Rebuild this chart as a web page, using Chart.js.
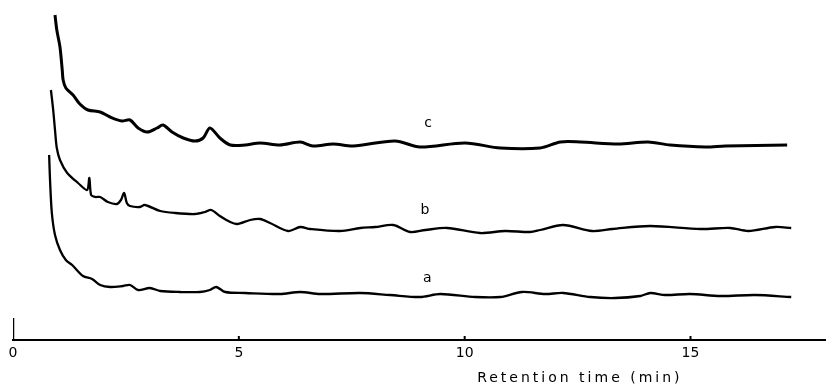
<!DOCTYPE html>
<html>
<head>
<meta charset="utf-8">
<title>Chromatograms a, b, c</title>
<script src="https://cdn.jsdelivr.net/npm/chart.js@4.4.1/dist/chart.umd.min.js"></script>
<style>
  html, body { margin: 0; padding: 0; background: #fff; }
</style>
</head>
<body>
<canvas id="chart" width="826" height="386"></canvas>
<script>
// retention time (min) and detector response (arbitrary units)
const timeA = [0.80, 0.82, 0.86, 0.93, 1.04, 1.17, 1.31, 1.55, 1.75, 1.93, 2.15, 2.44, 2.59, 2.77, 3.03, 3.26, 3.70, 4.14, 4.36, 4.50, 4.70, 5.14, 5.91, 6.36, 6.80, 7.69, 8.35, 9.01, 9.46, 10.23, 10.79, 11.27, 11.78, 12.18, 12.78, 13.33, 13.89, 14.11, 14.44, 14.99, 15.66, 16.43, 17.23];
const signalA = [18.5, 16.0, 12.7, 10.5, 9.0, 8.0, 7.5, 6.4, 6.1, 5.5, 5.3, 5.4, 5.5, 5.0, 5.2, 4.9, 4.8, 4.8, 5.0, 5.3, 4.8, 4.7, 4.6, 4.8, 4.6, 4.7, 4.5, 4.3, 4.6, 4.3, 4.3, 4.8, 4.6, 4.7, 4.3, 4.2, 4.4, 4.7, 4.5, 4.6, 4.4, 4.5, 4.3];

const timeB = [0.84, 0.89, 0.93, 0.97, 1.04, 1.20, 1.44, 1.64, 1.69, 1.73, 1.82, 1.93, 2.10, 2.30, 2.39, 2.46, 2.52, 2.59, 2.81, 2.92, 3.26, 3.59, 4.03, 4.25, 4.39, 4.58, 4.81, 4.96, 5.25, 5.47, 5.69, 6.09, 6.36, 6.58, 7.24, 7.69, 8.02, 8.42, 8.79, 9.13, 9.61, 10.34, 10.90, 11.45, 11.67, 12.18, 12.82, 13.27, 14.11, 15.22, 15.88, 16.28, 16.88, 17.23];
const signalB = [25.0, 23.0, 21.0, 19.2, 18.0, 16.7, 15.7, 15.0, 16.2, 14.5, 14.3, 14.3, 13.8, 13.6, 14.0, 14.7, 13.7, 13.4, 13.3, 13.5, 12.9, 12.7, 12.6, 12.8, 13.0, 12.4, 11.8, 11.6, 12.0, 12.1, 11.7, 10.9, 11.3, 11.1, 10.9, 11.2, 11.3, 11.5, 10.8, 11.0, 11.2, 10.7, 10.9, 10.8, 11.0, 11.5, 10.9, 11.1, 11.4, 11.1, 11.2, 10.9, 11.3, 11.2];

const timeC = [0.93, 0.97, 1.04, 1.09, 1.11, 1.17, 1.33, 1.48, 1.66, 1.93, 2.15, 2.41, 2.59, 2.77, 2.97, 3.19, 3.32, 3.52, 3.77, 4.03, 4.21, 4.36, 4.58, 4.81, 5.14, 5.47, 5.91, 6.36, 6.64, 7.09, 7.53, 8.46, 9.01, 10.01, 10.79, 11.67, 12.12, 12.56, 13.40, 14.06, 14.55, 15.33, 15.77, 17.14];
const signalC = [32.5, 31.0, 29.3, 27.0, 26.0, 25.2, 24.5, 23.6, 23.0, 22.8, 22.3, 21.9, 22.0, 21.2, 20.8, 21.2, 21.5, 20.8, 20.2, 19.9, 20.2, 21.2, 20.2, 19.5, 19.5, 19.7, 19.5, 19.8, 19.4, 19.6, 19.4, 19.9, 19.3, 19.7, 19.2, 19.2, 19.8, 19.8, 19.6, 19.8, 19.5, 19.3, 19.4, 19.5];

// vertical response scale bar standing on the origin
const barTime = [0, 0];
const barSignal = [0, 2.2];

const tickValues = [0, 5, 10, 15];
const axisTitle = "Retention time (min)";

const ink = "#000";
const font = '"DejaVu Sans", sans-serif';

const toPoints = (xs, ys) => xs.map((x, i) => ({ x, y: ys[i] }));

const trace = (label, xs, ys, width) => ({
  label,
  data: toPoints(xs, ys),
  borderColor: ink,
  borderWidth: width,
  pointRadius: 0,
  tension: 0.3,
  fill: false
});

const decorations = {
  id: "decorations",
  afterDraw(chart, args, opts) {
    const { ctx } = chart;
    const { x, y } = chart.scales;
    ctx.save();

    // small upward tick marks on the time axis
    ctx.strokeStyle = ink;
    ctx.lineWidth = 2;
    tickValues.slice(1).forEach((v) => {
      const px = x.getPixelForValue(v);
      ctx.beginPath();
      ctx.moveTo(px, y.bottom);
      ctx.lineTo(px, y.bottom - 4);
      ctx.stroke();
    });

    // curve letters
    ctx.fillStyle = ink;
    ctx.font = `14px ${font}`;
    ctx.textAlign = "center";
    ctx.textBaseline = "middle";
    opts.labels.forEach((item) => {
      ctx.fillText(item.text, x.getPixelForValue(item.x), y.getPixelForValue(item.y));
    });

    // axis title, centred under 12.5 min like the original
    ctx.letterSpacing = "3px";
    ctx.fillText(axisTitle, x.getPixelForValue(opts.titleAt), y.bottom + 38);
    ctx.restore();
  }
};

new Chart(document.getElementById("chart"), {
  type: "line",
  data: {
    datasets: [
      trace("c", timeC, signalC, 3),
      trace("b", timeB, signalB, 2.3),
      trace("a", timeA, signalA, 2.3),
      { ...trace("scale", barTime, barSignal, 2.5), tension: 0 }
    ]
  },
  options: {
    responsive: false,
    animation: false,
    layout: {
      padding: { left: 13, top: 0, right: 0, bottom: 0 }
    },
    plugins: {
      legend: { display: false },
      tooltip: { enabled: false },
      decorations: {
        titleAt: 12.55,
        labels: [
          { text: "c", x: 9.19, y: 21.7 },
          { text: "b", x: 9.12, y: 13.0 },
          { text: "a", x: 9.17, y: 6.2 }
        ]
      }
    },
    scales: {
      x: {
        type: "linear",
        min: 0,
        max: 18,
        afterBuildTicks: (scale) => {
          scale.ticks = tickValues.map((value) => ({ value }));
        },
        afterFit: (scale) => {
          scale.height = 46;
        },
        grid: { display: false, drawTicks: false },
        border: { display: true, color: ink, width: 2 },
        ticks: {
          color: ink,
          padding: 5,
          maxRotation: 0,
          autoSkip: false,
          font: { family: font, size: 14 }
        }
      },
      y: {
        display: false,
        min: 0,
        max: 34
      }
    }
  },
  plugins: [decorations]
});
</script>
</body>
</html>
